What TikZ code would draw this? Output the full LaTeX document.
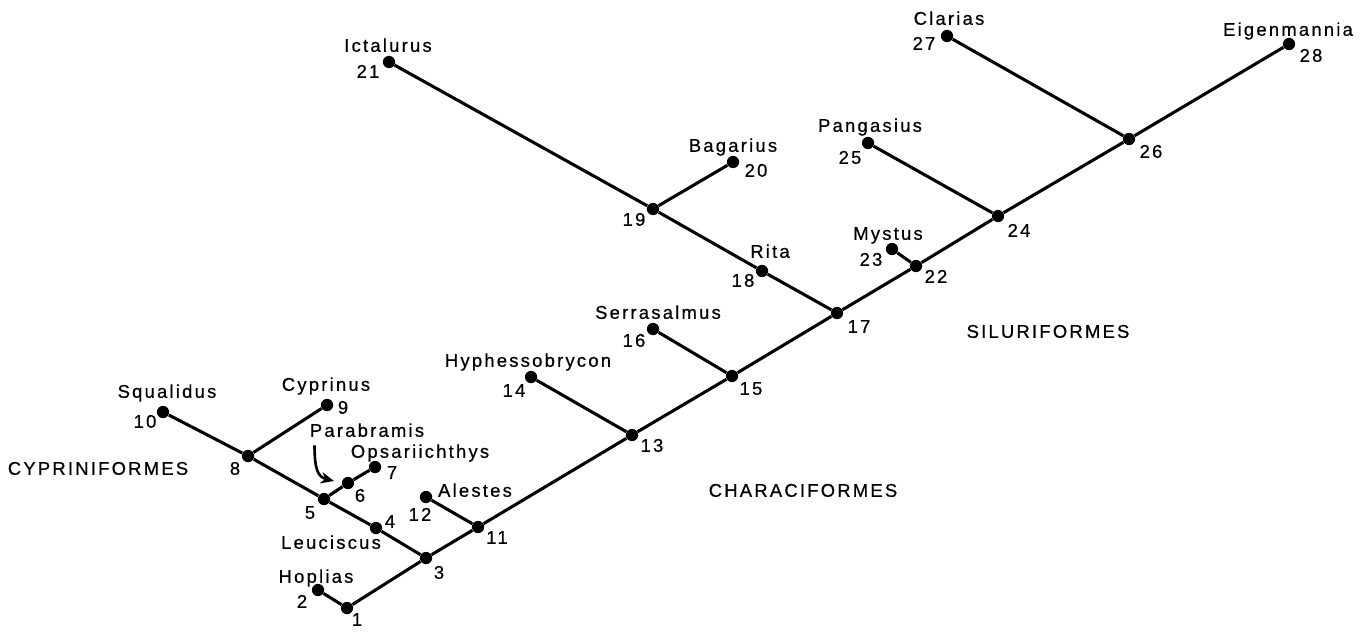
\documentclass[tikz,border=0pt]{standalone}
\usepackage{fontspec}
\setmainfont{Liberation Sans}[LetterSpace=12, FakeBold=0.6]
\usetikzlibrary{arrows.meta}

\begin{document}
\begin{tikzpicture}[
    x=0.02cm, y=-0.02cm,
    dot/.style={circle, fill=black, inner sep=0pt, minimum size=7pt},
    branch/.style={line width=1.75pt},
    lbl/.style={inner sep=0pt, text height=1.5ex, text depth=0.25ex, font=\fontsize{10.5}{12}\selectfont},
    arr/.style={-{Stealth[length=7.5pt, width=6.5pt]}, line width=1.5pt}
]
\useasboundingbox (0,0) rectangle (1368,632);

% branching points and tips
\foreach \n/\x/\y in {1/347/608, 2/318/590, 3/426/558, 4/376/528, 5/324/499, 6/348/483, 7/375/467,
    8/248/456, 9/327/405, 10/163/412, 11/478/527, 12/426/497, 13/632/435, 14/531/377,
    15/732/376, 16/653/329, 17/837/313, 18/762/271, 19/653/209, 20/733/162, 21/389/62,
    22/916/266, 23/892/249, 24/998/216, 25/868/143, 26/1129/139, 27/947/36, 28/1289/44}
    \node[dot] (n\n) at (\x,\y) {};

% branches
\foreach \a/\b in {1/2, 1/3, 3/4, 4/5, 5/6, 6/7, 5/8, 8/9, 8/10, 3/11, 11/12, 11/13, 13/14,
    13/15, 15/16, 15/17, 17/18, 18/19, 19/20, 19/21, 17/22, 22/23, 22/24, 24/25, 24/26, 26/27, 26/28}
    \draw[branch] (n\a) -- (n\b);

% numbers
\foreach \n/\x/\y in {1/357/620, 2/302/602, 3/439/573, 4/390/522, 5/310/513, 6/360/496, 7/392/473,
    8/235/469, 9/343/408, 10/145/422, 11/497/538, 12/420/515, 13/652/446, 14/514/391,
    15/751/389, 16/634/341, 17/859/327, 18/743/281, 19/634/220, 20/756/171, 21/368/72,
    22/936/277, 23/871/260, 24/1019/231, 25/850/158, 26/1151/152, 27/924/44, 28/1311/56}
    \node[lbl] (l\n) at (\x,\y) {\n};

% genera
\node[lbl] (squalidus) at (167,392) {Squalidus};
\node[lbl] (cyprinus) at (326,385) {Cyprinus};
\node[lbl] (parabramis) at (367,431) {Parabramis};
\node[lbl] (opsariichthys) at (420,452) {Opsariichthys};
\node[lbl] (leuciscus) at (331,543) {Leuciscus};
\node[lbl] (hoplias) at (316,577) {Hoplias};
\node[lbl] (alestes) at (475,491) {Alestes};
\node[lbl] (hyphessobrycon) at (528,361) {Hyphessobrycon};
\node[lbl] (serrasalmus) at (658,313) {Serrasalmus};
\node[lbl] (rita) at (770,252) {Rita};
\node[lbl] (bagarius) at (733,146) {Bagarius};
\node[lbl] (ictalurus) at (388,46) {Ictalurus};
\node[lbl] (mystus) at (888,234) {Mystus};
\node[lbl] (pangasius) at (870,126) {Pangasius};
\node[lbl] (clarias) at (949,19) {Clarias};
\node[lbl] (eigenmannia) at (1288,30) {Eigenmannia};

% orders
\node[lbl] (cypriniformes) at (98,469) {CYPRINIFORMES};
\node[lbl] (characiformes) at (803,491) {CHARACIFORMES};
\node[lbl] (siluriformes) at (1048,332) {SILURIFORMES};

% pointer to 6
\coordinate (tip) at (334,481);
\draw[arr] ([shift={(5,6)}]parabramis.south west) .. controls +(0,24) and (318,477) .. (tip);
\end{tikzpicture}
\end{document}
